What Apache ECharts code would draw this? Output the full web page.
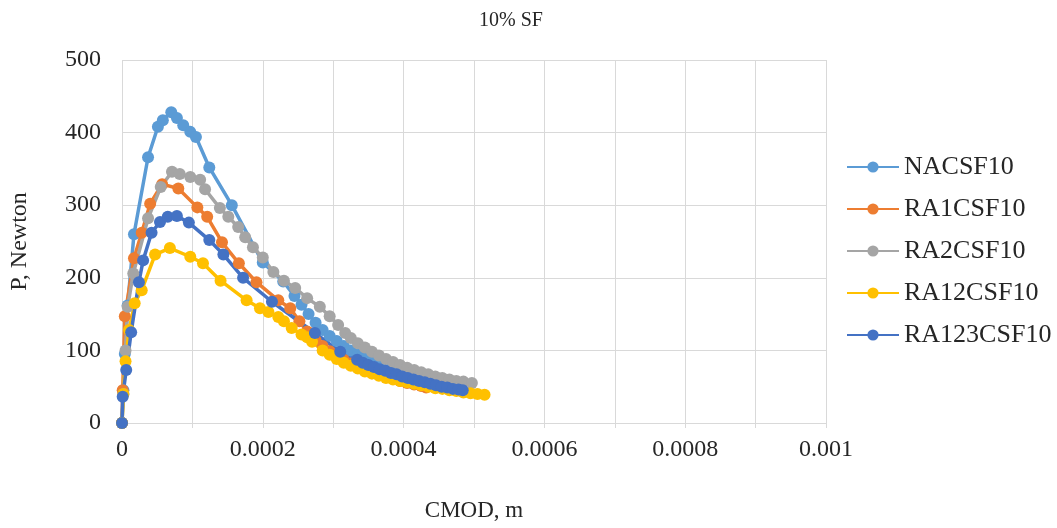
<!DOCTYPE html>
<html>
<head>
<meta charset="utf-8">
<script src="https://cdn.jsdelivr.net/npm/echarts@6/dist/echarts.min.js"></script>
<style>
html,body{margin:0;padding:0;background:#fff;}
#chart{width:1057px;height:528px;}
</style>
</head>
<body>
<div id="chart"></div>
<script>
const seriesNames = ['NACSF10', 'RA1CSF10', 'RA2CSF10', 'RA12CSF10', 'RA123CSF10'];
const seriesColors = ['#5B9BD5', '#ED7D31', '#A5A5A5', '#FFC000', '#4472C4'];

// [CMOD (m), P (N)]
const NACSF10 = [[0,0],[0.02e-4,45],[0.04e-4,95],[0.08e-4,162],[0.17e-4,260],[0.37e-4,366],[0.51e-4,408],[0.58e-4,417],[0.70e-4,428],[0.78e-4,420],[0.87e-4,410],[0.97e-4,401],[1.05e-4,394],[1.24e-4,352],[1.56e-4,300],[2.00e-4,221],[2.29e-4,195],[2.45e-4,175],[2.55e-4,163],[2.65e-4,150],[2.75e-4,138],[2.85e-4,128],[2.95e-4,120],[3.05e-4,113],[3.15e-4,106],[3.25e-4,100],[3.35e-4,94],[3.45e-4,89],[3.55e-4,85],[3.65e-4,81],[3.75e-4,77],[3.85e-4,74],[3.95e-4,71],[4.05e-4,68],[4.15e-4,65],[4.25e-4,62],[4.35e-4,60],[4.45e-4,57],[4.55e-4,55],[4.65e-4,53],[4.75e-4,50]];
const RA1CSF10 = [[0,0],[0.01e-4,45],[0.04e-4,147],[0.17e-4,227],[0.28e-4,262],[0.40e-4,302],[0.57e-4,329],[0.80e-4,323],[1.07e-4,297],[1.21e-4,284],[1.42e-4,249],[1.66e-4,220],[1.91e-4,194],[2.22e-4,169],[2.39e-4,158],[2.52e-4,140],[2.63e-4,126],[2.75e-4,114],[2.85e-4,106],[2.95e-4,99],[3.05e-4,93],[3.15e-4,87],[3.25e-4,82],[3.35e-4,78],[3.45e-4,74],[3.55e-4,70],[3.65e-4,67],[3.75e-4,64],[3.85e-4,61],[3.95e-4,58],[4.05e-4,55],[4.15e-4,53],[4.25e-4,51],[4.32e-4,49]];
const RA2CSF10 = [[0,0],[0.02e-4,40],[0.05e-4,100],[0.08e-4,160],[0.16e-4,206],[0.37e-4,282],[0.55e-4,325],[0.71e-4,346],[0.82e-4,343],[0.97e-4,339],[1.11e-4,335],[1.18e-4,322],[1.39e-4,296],[1.51e-4,284],[1.65e-4,270],[1.75e-4,256],[1.86e-4,242],[2.00e-4,228],[2.15e-4,208],[2.30e-4,196],[2.46e-4,186],[2.63e-4,172],[2.81e-4,160],[2.95e-4,147],[3.07e-4,135],[3.17e-4,124],[3.25e-4,117],[3.35e-4,110],[3.45e-4,104],[3.55e-4,98],[3.65e-4,93],[3.75e-4,88],[3.85e-4,84],[3.95e-4,80],[4.05e-4,76],[4.15e-4,73],[4.25e-4,70],[4.35e-4,67],[4.45e-4,64],[4.55e-4,62],[4.65e-4,60],[4.75e-4,58],[4.85e-4,57],[4.97e-4,55]];
const RA12CSF10 = [[0,0],[0.02e-4,40],[0.05e-4,85],[0.10e-4,128],[0.18e-4,165],[0.28e-4,183],[0.47e-4,232],[0.68e-4,241],[0.97e-4,229],[1.15e-4,220],[1.40e-4,196],[1.77e-4,169],[1.96e-4,158],[2.08e-4,153],[2.22e-4,146],[2.30e-4,140],[2.41e-4,131],[2.55e-4,122],[2.63e-4,118],[2.70e-4,112],[2.85e-4,100],[2.95e-4,94],[3.05e-4,88],[3.15e-4,83],[3.25e-4,79],[3.35e-4,75],[3.45e-4,71],[3.55e-4,68],[3.65e-4,65],[3.75e-4,62],[3.85e-4,60],[3.95e-4,58],[4.05e-4,56],[4.15e-4,54],[4.25e-4,52],[4.35e-4,50],[4.45e-4,48],[4.55e-4,47],[4.65e-4,45],[4.75e-4,44],[4.85e-4,42],[4.95e-4,41],[5.05e-4,40],[5.15e-4,39]];
const RA123CSF10 = [[0,0],[0.01e-4,36],[0.06e-4,73],[0.13e-4,125],[0.24e-4,194],[0.30e-4,224],[0.42e-4,262],[0.54e-4,277],[0.65e-4,284],[0.78e-4,285],[0.95e-4,276],[1.24e-4,252],[1.44e-4,232],[1.72e-4,200],[2.13e-4,167],[2.74e-4,124],[3.10e-4,98],[3.34e-4,87],[3.42e-4,83],[3.50e-4,80],[3.58e-4,77],[3.66e-4,74],[3.74e-4,72],[3.82e-4,69],[3.90e-4,67],[3.98e-4,64],[4.06e-4,62],[4.14e-4,60],[4.22e-4,58],[4.30e-4,56],[4.38e-4,54],[4.46e-4,52],[4.54e-4,50],[4.62e-4,49],[4.70e-4,47],[4.78e-4,46],[4.84e-4,45]];

const allData = [NACSF10, RA1CSF10, RA2CSF10, RA12CSF10, RA123CSF10];
const FONT = "'Liberation Serif', 'Times New Roman', serif";
const TXT = '#262626';

const chart = echarts.init(document.getElementById('chart'));
chart.setOption({
  animation: false,
  backgroundColor: '#fff',
  title: {
    text: '10% SF',
    left: 506,
    top: 6,
    textAlign: 'center',
    textStyle: { fontFamily: FONT, fontSize: 20, fontWeight: 'normal', color: TXT }
  },
  legend: {
    orient: 'vertical',
    left: 846,
    top: 154,
    padding: 0,
    itemGap: 16,
    itemWidth: 52,
    itemHeight: 14,
    data: seriesNames,
    textStyle: { fontFamily: FONT, fontSize: 26, color: TXT }
  },
  grid: { left: 122, right: 231, top: 60, bottom: 105, containLabel: false, outerBoundsMode: 'none' },
  xAxis: {
    type: 'value',
    min: 0,
    max: 0.001,
    interval: 0.0001,
    name: 'CMOD, m',
    nameLocation: 'middle',
    nameGap: 76,
    nameTextStyle: { fontFamily: FONT, fontSize: 23, color: TXT },
    axisLine: { show: true, lineStyle: { color: '#d9d9d9', width: 1 } },
    axisTick: { show: true, length: 5, lineStyle: { color: '#d9d9d9' } },
    splitLine: { show: true, lineStyle: { color: '#d9d9d9', width: 1 } },
    axisLabel: {
      fontFamily: FONT, fontSize: 24, color: TXT, margin: 15,
      formatter: function (v, i) { return i % 2 === 0 ? String(+v.toFixed(4)) : ''; }
    }
  },
  yAxis: {
    type: 'value',
    min: 0,
    max: 500,
    interval: 100,
    name: 'P, Newton',
    nameLocation: 'middle',
    nameGap: 90,
    nameRotate: 90,
    nameTextStyle: { fontFamily: FONT, fontSize: 24, color: TXT },
    axisLine: { show: false },
    axisTick: { show: false },
    splitLine: { show: true, lineStyle: { color: '#d9d9d9', width: 1 } },
    axisLabel: { fontFamily: FONT, fontSize: 24, color: TXT, margin: 21 }
  },
  series: allData.map(function (d, i) {
    return {
      name: seriesNames[i],
      type: 'line',
      data: d,
      color: seriesColors[i],
      symbol: 'circle',
      symbolSize: 12,
      showSymbol: true,
      lineStyle: { width: 3.5, color: seriesColors[i] },
      itemStyle: { color: seriesColors[i] }
    };
  })
});
</script>
</body>
</html>
